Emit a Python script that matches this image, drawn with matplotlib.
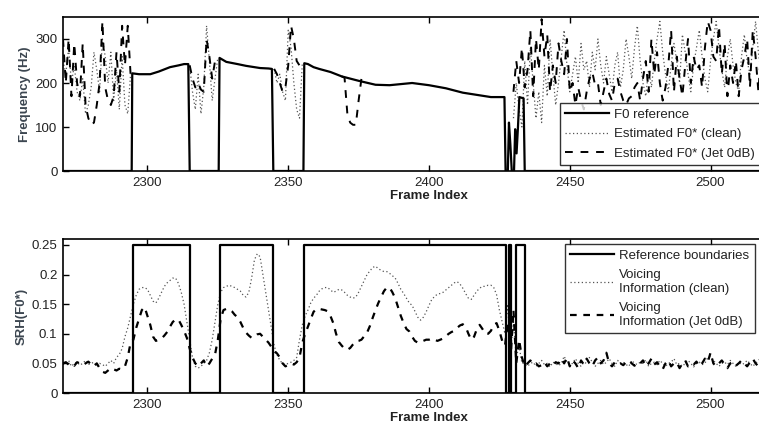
import numpy as np
import matplotlib
matplotlib.use("Agg")
import matplotlib.pyplot as plt

plt.rcParams["font.family"] = ["Liberation Sans", "DejaVu Sans"]

FRAME_START = 2270

# ---- top panel: F0 reference (breakpoints) ----
ref_f0_frames = [2270, 2294.4, 2294.6, 2297, 2301, 2304, 2308, 2311, 2313, 2314.5, 2315.0,
                 2325.3, 2325.6, 2328, 2332, 2335, 2340, 2343, 2344.2, 2344.7,
                 2355.4, 2355.7, 2357, 2359, 2361, 2365, 2369, 2375, 2381, 2386, 2394,
                 2400, 2406, 2412, 2418, 2422, 2426.8, 2427.2,
                 2428.0, 2428.4, 2428.9, 2429.4, 2430.2, 2430.6, 2431.1, 2431.6, 2432.1,
                 2433.6, 2434.0, 2520]
ref_f0_values = [0, 0, 222, 220, 220, 226, 236, 240, 243, 243, 0,
                 0, 257, 248, 243, 239, 234, 233, 232, 0,
                 0, 245, 243, 236, 232, 225, 215, 205, 196, 195, 200,
                 195, 188, 178, 172, 168, 168, 0,
                 0, 110, 60, 0, 0, 95, 40, 100, 168,
                 165, 0, 0]

# estimated F0, clean (dotted) - unvoiced stretches only, start frame + values
clean_f0_segments = [
    (2270, [250, 220, 280, 200, 240, 180, 160, 210, 130, 150, 190, 270, 230, 180, 300,
            260, 200, 270, 160, 230, 140, 260, 150, 130, 220]),
    (2315, [240, 180, 140, 220, 130, 190, 330, 250, 160, 210, 258]),
    (2345, [232, 200, 220, 180, 160, 320, 280, 200, 140, 120, 245]),
    (2430, [120, 200, 140, 100, 250, 150, 280, 200, 120, 180, 110, 240, 170, 300, 220,
            150, 200, 260, 320, 240, 180, 220, 260, 200, 290, 230, 250, 190, 270, 230,
            300, 240, 200, 260, 220, 180, 240, 270, 190, 230, 300, 260, 210, 280, 330,
            250, 200, 170, 230, 190, 250, 300, 340, 270, 220, 180, 240, 290, 250, 200,
            310, 270, 220, 180, 240, 280, 320, 260, 210, 180, 250, 300, 340, 280, 230,
            190, 260, 300, 240, 200, 180, 260, 310, 250, 220, 280, 340, 270, 220, 250,
            200]),
]

# estimated F0, Jet 0dB (dashed)
jet_f0_segments = [
    (2270, [300, 200, 300, 170, 290, 200, 170, 290, 150, 120, 105, 110, 150, 200, 340,
            190, 160, 150, 170, 270, 180, 330, 240, 330, 220]),
    (2315, [240, 210, 190, 200, 185, 180, 300, 260, 210, 250, 258]),
    (2345, [232, 220, 200, 180, 190, 240, 330, 300, 250, 240, 245]),
    (2369, [215, 212, 130, 110, 105, 105, 160, 210]),
    (2430, [180, 250, 200, 280, 190, 230, 320, 170, 300, 230, 345, 260, 310, 180, 240,
            200, 290, 250, 220, 300, 180, 200, 150, 190, 160, 140, 180, 210, 225, 195,
            200, 150, 180, 210, 175, 160, 200, 210, 180, 160, 150, 165, 170, 190, 200,
            160, 210, 250, 180, 300, 220, 270, 200, 160, 190, 240, 320, 180, 260, 210,
            170, 240, 300, 200, 260, 230, 240, 190, 280, 340, 320, 260, 250, 330, 220,
            290, 170, 240, 200, 250, 170, 230, 260, 300, 190, 320, 260, 180, 280, 240,
            200]),
]

# ---- bottom panel: reference voicing boundaries ----
ref_vuv_frames = [2270, 2294.8, 2294.8, 2315.2, 2315.2, 2325.6, 2325.6, 2344.5, 2344.5,
                  2355.6, 2355.6, 2427.2, 2427.2, 2428.3, 2428.3, 2429.3, 2429.3,
                  2431.0, 2431.0, 2434.0, 2434.0, 2520]
ref_vuv_values = [0, 0, 0.25, 0.25, 0, 0, 0.25, 0.25, 0, 0, 0.25, 0.25, 0, 0, 0.25, 0.25,
                  0, 0, 0.25, 0.25, 0, 0]

# SRH voicing information, one value per frame from 2270
srh_clean = (
    [0.048, 0.05, 0.055, 0.045, 0.05, 0.052, 0.047, 0.05, 0.055, 0.048, 0.05, 0.052,
     0.045, 0.05, 0.048, 0.045, 0.05, 0.055, 0.05, 0.06, 0.065, 0.075, 0.095, 0.11, 0.13]
    + [0.15, 0.165, 0.175, 0.178, 0.178, 0.175, 0.165, 0.155, 0.152, 0.16, 0.17, 0.18,
       0.186, 0.19, 0.194, 0.194, 0.185, 0.17, 0.15, 0.12, 0.09]
    + [0.06, 0.045, 0.042, 0.045, 0.05, 0.055, 0.068, 0.09, 0.12]
    + [0.15, 0.17, 0.178, 0.18, 0.182, 0.18, 0.178, 0.175, 0.172, 0.165, 0.162, 0.17,
       0.194, 0.225, 0.235, 0.23, 0.2, 0.17, 0.14, 0.11]
    + [0.08, 0.065, 0.055, 0.05, 0.048, 0.05, 0.052, 0.055, 0.06, 0.09]
    + [0.115, 0.13, 0.14, 0.152, 0.16, 0.165, 0.172, 0.176, 0.178, 0.178, 0.174, 0.17,
       0.172, 0.175, 0.174, 0.17, 0.165, 0.162, 0.16, 0.162, 0.17, 0.18, 0.19, 0.2,
       0.206, 0.212, 0.214, 0.21, 0.207, 0.205, 0.205, 0.202, 0.198, 0.194, 0.185, 0.175,
       0.168, 0.16, 0.152, 0.148, 0.138, 0.128, 0.123, 0.128, 0.137, 0.148, 0.158, 0.163,
       0.167, 0.168, 0.17, 0.174, 0.178, 0.182, 0.186, 0.188, 0.184, 0.177, 0.168, 0.16,
       0.158, 0.165, 0.172, 0.177, 0.18, 0.18, 0.182, 0.182, 0.178, 0.166, 0.14, 0.12,
       0.1]
    + [0.15, 0.07, 0.12, 0.06, 0.08, 0.05, 0.05, 0.045, 0.05, 0.052, 0.045, 0.05, 0.055,
       0.048, 0.05, 0.044, 0.052, 0.05, 0.046, 0.05, 0.062, 0.052, 0.048, 0.05, 0.058,
       0.05, 0.045, 0.052, 0.05, 0.06, 0.052, 0.045, 0.05, 0.055, 0.048, 0.052, 0.058,
       0.05, 0.045, 0.055, 0.05, 0.052, 0.048, 0.045, 0.055, 0.05, 0.048, 0.052, 0.05,
       0.056, 0.045, 0.05, 0.052, 0.048, 0.055, 0.05, 0.045, 0.05, 0.052, 0.058, 0.048,
       0.05, 0.045, 0.05, 0.055, 0.05, 0.044, 0.05, 0.052, 0.048, 0.05, 0.06, 0.062,
       0.055, 0.05, 0.045, 0.05, 0.052, 0.048, 0.055, 0.05, 0.045, 0.052, 0.048, 0.05,
       0.055, 0.05, 0.045, 0.05, 0.055, 0.06, 0.05, 0.045]
)

srh_jet = (
    [0.05, 0.052, 0.048, 0.05, 0.046, 0.052, 0.05, 0.047, 0.05, 0.053, 0.048, 0.045,
     0.05, 0.042, 0.036, 0.034, 0.038, 0.042, 0.04, 0.038, 0.041, 0.04, 0.045, 0.06, 0.085]
    + [0.09, 0.11, 0.125, 0.14, 0.145, 0.13, 0.115, 0.095, 0.088, 0.09, 0.092, 0.097,
       0.103, 0.112, 0.12, 0.124, 0.124, 0.115, 0.105, 0.093, 0.075]
    + [0.06, 0.05, 0.045, 0.05, 0.055, 0.045, 0.05, 0.058, 0.065]
    + [0.09, 0.125, 0.14, 0.142, 0.142, 0.138, 0.132, 0.128, 0.12, 0.11, 0.102, 0.097,
       0.093, 0.095, 0.099, 0.1, 0.095, 0.09, 0.085, 0.078]
    + [0.07, 0.067, 0.06, 0.05, 0.045, 0.047, 0.05, 0.048, 0.052, 0.06]
    + [0.085, 0.1, 0.112, 0.125, 0.137, 0.142, 0.142, 0.141, 0.14, 0.138, 0.13, 0.118,
       0.1, 0.086, 0.08, 0.075, 0.073, 0.076, 0.082, 0.087, 0.088, 0.09, 0.096, 0.102,
       0.113, 0.127, 0.14, 0.152, 0.162, 0.172, 0.178, 0.178, 0.17, 0.16, 0.145, 0.13,
       0.118, 0.108, 0.104, 0.095, 0.088, 0.085, 0.087, 0.088, 0.09, 0.09, 0.092, 0.09,
       0.088, 0.09, 0.092, 0.096, 0.1, 0.103, 0.105, 0.11, 0.114, 0.116, 0.112, 0.1,
       0.09, 0.095, 0.108, 0.115, 0.108, 0.1, 0.1, 0.105, 0.115, 0.118, 0.105, 0.088,
       0.08]
    + [0.12, 0.06, 0.14, 0.05, 0.09, 0.06, 0.045, 0.05, 0.055, 0.048, 0.05, 0.045,
       0.047, 0.052, 0.045, 0.05, 0.046, 0.052, 0.05, 0.058, 0.05, 0.06, 0.045, 0.055,
       0.05, 0.042, 0.055, 0.048, 0.058, 0.05, 0.045, 0.055, 0.06, 0.05, 0.055, 0.068,
       0.05, 0.045, 0.052, 0.048, 0.05, 0.047, 0.052, 0.055, 0.05, 0.046, 0.052, 0.05,
       0.055, 0.045, 0.05, 0.058, 0.048, 0.052, 0.045, 0.04, 0.05, 0.055, 0.045, 0.05,
       0.052, 0.042, 0.05, 0.055, 0.045, 0.05, 0.048, 0.053, 0.045, 0.05, 0.058, 0.052,
       0.068, 0.05, 0.045, 0.05, 0.055, 0.048, 0.042, 0.05, 0.052, 0.046, 0.05, 0.055,
       0.05, 0.045, 0.052, 0.058, 0.05, 0.045, 0.05, 0.055, 0.05]
)

f0_ticks = [0, 100, 200, 300]
srh_ticks = [0, 0.05, 0.1, 0.15, 0.2, 0.25]
srh_tick_labels = ["0", "0.05", "0.1", "0.15", "0.2", "0.25"]
frame_ticks = [2300, 2350, 2400, 2450, 2500]

LABEL_COLOR = "#3c4650"
TEXT_COLOR = "#222222"
FS = 9.5
LEG_FS = 9.5


def style_axes(ax):
    ax.tick_params(direction="in", top=True, right=False, length=4, width=1,
                   labelsize=FS, colors="black", labelcolor=TEXT_COLOR, pad=4)
    for spine in ax.spines.values():
        spine.set_linewidth(1.2)
    ax.set_xticks(frame_ticks)
    ax.set_xlim(2270, 2530)
    ax.set_xlabel("Frame Index", fontsize=FS, fontweight="bold", color=TEXT_COLOR, labelpad=1)


def style_legend(leg):
    leg.get_frame().set_edgecolor("black")
    leg.get_frame().set_linewidth(1.0)
    for t in leg.get_texts():
        t.set_color(TEXT_COLOR)


W, H = 759, 429
fig = plt.figure(figsize=(W / 100, H / 100), dpi=100)

left = 63 / W
width = (795 - 63) / W
ax_top = fig.add_axes([left, 1 - 171 / H, width, (171 - 17) / H])
ax_bot = fig.add_axes([left, 1 - 393 / H, width, (393 - 239) / H])

# top panel
ax_top.plot(ref_f0_frames, ref_f0_values, color="black", lw=1.6, label="F0 reference", zorder=3)
for i, (start, vals) in enumerate(clean_f0_segments):
    fr = np.arange(start, start + len(vals))
    ax_top.plot(fr, vals, color="#555555", lw=0.9, linestyle=(0, (1, 2)),
                label="Estimated F0* (clean)" if i == 0 else None, zorder=2)
for i, (start, vals) in enumerate(jet_f0_segments):
    fr = np.arange(start, start + len(vals))
    ax_top.plot(fr, vals, color="black", lw=1.4, linestyle=(0, (4, 4)),
                label="Estimated F0* (Jet 0dB)" if i == 0 else None, zorder=2)
style_axes(ax_top)
ax_top.set_ylim(0, 350)
ax_top.set_yticks(f0_ticks)
ax_top.set_ylabel("Frequency (Hz)", fontsize=FS, fontweight="bold", color=LABEL_COLOR, labelpad=3)

leg = ax_top.legend(loc="lower left", bbox_to_anchor=(560 / W, 1 - 165 / H),
                    bbox_transform=fig.transFigure, fontsize=LEG_FS, frameon=True,
                    fancybox=False, handlelength=3.3, borderpad=0.4, labelspacing=0.55,
                    handletextpad=0.4, borderaxespad=0)
style_legend(leg)

# bottom panel
frames = np.arange(FRAME_START, FRAME_START + len(srh_clean))
ax_bot.plot(ref_vuv_frames, ref_vuv_values, color="black", lw=1.6,
            label="Reference boundaries", zorder=3)
ax_bot.plot(frames, srh_clean, color="#555555", lw=0.9, linestyle=(0, (1, 2)),
            label="Voicing\nInformation (clean)", zorder=2)
ax_bot.plot(np.arange(FRAME_START, FRAME_START + len(srh_jet)), srh_jet, color="black",
            lw=1.6, linestyle=(0, (3, 3)), label="Voicing\nInformation (Jet 0dB)", zorder=2)
style_axes(ax_bot)
ax_bot.set_ylim(0, 0.26)
ax_bot.set_yticks(srh_ticks)
ax_bot.set_yticklabels(srh_tick_labels)
ax_bot.set_ylabel("SRH(F0*)", fontsize=FS, fontweight="bold", color=LABEL_COLOR, labelpad=3)

leg2 = ax_bot.legend(loc="upper left", bbox_to_anchor=(565 / W, 1 - 244 / H),
                     bbox_transform=fig.transFigure, fontsize=LEG_FS, frameon=True,
                     fancybox=False, handlelength=3.3, borderpad=0.4, labelspacing=0.55,
                     handletextpad=0.4, borderaxespad=0)
style_legend(leg2)

fig.savefig("out.png", dpi=100)
